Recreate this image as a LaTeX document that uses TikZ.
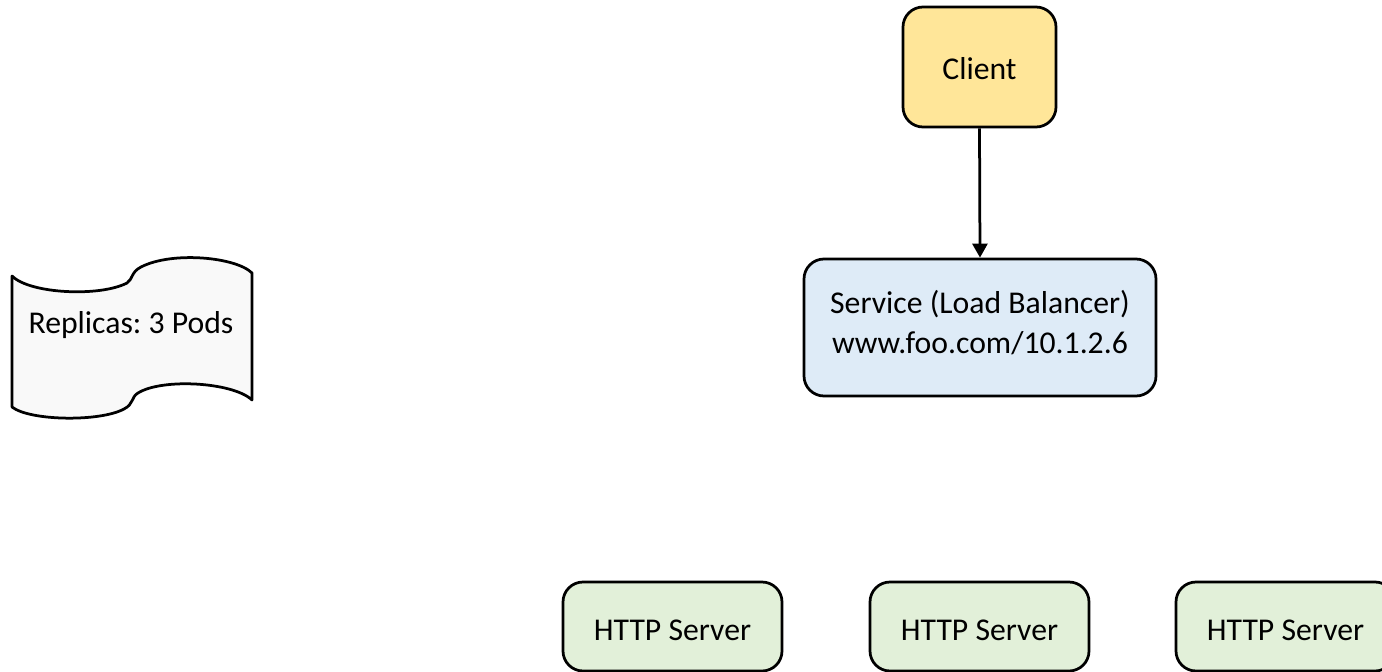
\documentclass[tikz,border=0pt]{standalone}
\usepackage{fontspec}
\setmainfont{Carlito}
\usetikzlibrary{arrows.meta}
\frenchspacing
\definecolor{clientfill}{HTML}{FFE699}
\definecolor{servicefill}{HTML}{DEEBF7}
\definecolor{httpfill}{HTML}{E2F0D9}
\definecolor{tapefill}{HTML}{F9F9F9}
\tikzset{
  box/.style={draw=black, line width=2.75pt, rounded corners=20pt, inner sep=0pt},
  lbl/.style={inner sep=0pt, anchor=base, font=\fontsize{31.7}{40}\selectfont},
  conn/.style={draw=black, line width=2.75pt, -{Triangle[length=14pt,width=15pt]}},
}
\begin{document}
\begin{tikzpicture}[x=1pt,y=-1pt]
\useasboundingbox (0,0) rectangle (1382,672);
\clip (0,0) rectangle (1382,672);
% tape
\draw[fill=tapefill, line width=2.75pt, line join=round]
  (12,276) .. controls (30,294) and (100,297) .. (127,283)
  .. controls (133,279) and (131,272) .. (141,267)
  .. controls (172,251) and (236,257) .. (252,273)
  -- (252,400)
  .. controls (233,382) and (162,378) .. (138,393)
  .. controls (131,397) and (134,404) .. (124,409)
  .. controls (100,422) and (30,421) .. (12,407) -- cycle;
\node[lbl] (tapelbl) at (131,333) {Replicas: 3 Pods};
% client
\node[box, fill=clientfill, minimum width=153pt, minimum height=120pt] (client) at (979.5,67) {};
\node[lbl] (clientlbl) at (979.5,79) {Client};
% service
\node[box, fill=servicefill, minimum width=352pt, minimum height=137pt] (service) at (980,327.5) {};
\node[lbl] (servicelbl1) at (980,313) {Service (Load Balancer)};
\node[lbl] (servicelbl2) at (980,353) {www.foo.com/10.1.2.6};
% http servers
\node[box, fill=httpfill, minimum width=219pt, minimum height=89pt] (http1) at (672.5,626.5) {};
\node[lbl] (http1lbl) at (672.5,640) {HTTP Server};
\node[box, fill=httpfill, minimum width=219pt, minimum height=89pt] (http2) at (979.5,626.5) {};
\node[lbl] (http2lbl) at (979.5,640) {HTTP Server};
\node[box, fill=httpfill, minimum width=219pt, minimum height=89pt] (http3) at (1285.5,626.5) {};
\node[lbl] (http3lbl) at (1285.5,640) {HTTP Server};
% connector
\draw[conn] (client.south) -- (service.north);
\end{tikzpicture}
\end{document}
